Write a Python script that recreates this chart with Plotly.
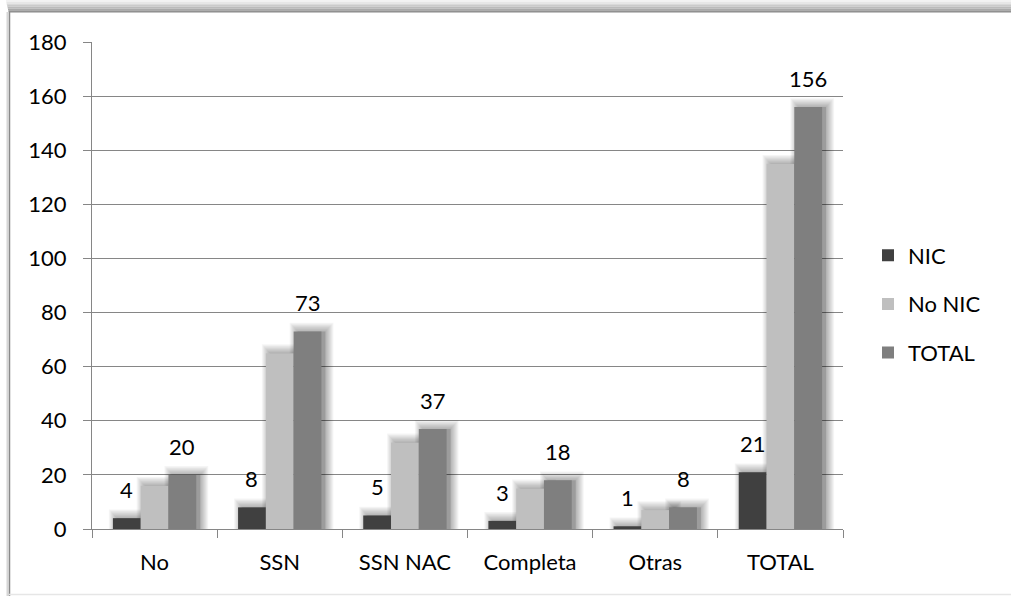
import plotly.graph_objects as go

# Chart data
categories = ["No", "SSN", "SSN NAC", "Completa", "Otras", "TOTAL"]
nic = [4, 8, 5, 3, 1, 21]
no_nic = [16, 65, 32, 15, 7, 135]
total = [20, 73, 37, 18, 8, 156]

series_names = ["NIC", "No NIC", "TOTAL"]
series_values = [nic, no_nic, total]
series_colors = ["#404040", "#bfbfbf", "#7f7f7f"]
labelled = [True, False, True]

# Figure geometry (pixels)
W, H = 1011, 596
L, R, T, B = 92, 843, 42, 529
PW, PH = R - L, B - T
Y_MAX = 180
CAT_PX = PW / len(categories)          # pixels per category
Y_PX = PH / Y_MAX                       # pixels per value unit

BAR_W = 0.222                           # bar width, category units
OFFSETS = [-0.333, -0.111, 0.111]       # left edge of each bar in its group

FONT = "Lato, 'Open Sans', sans-serif"
FS = 22
GRID = "#868686"

fig = go.Figure()

# Soft drop shadows behind the bars: an offset core plus growing translucent layers
SH_DX = 4
shadow_layers = [(0, 0.14)] + [(e, 0.04) for e in range(1, 9)]
for vals, off in zip(series_values, OFFSETS):
    for e, a in shadow_layers:
        fig.add_trace(go.Bar(
            x=categories,
            y=[v + 1.1 * e / Y_PX for v in vals],
            base=0,
            offset=off + (SH_DX - e) / CAT_PX,
            width=BAR_W + 2 * e / CAT_PX,
            marker=dict(color=f"rgba(0,0,0,{a})", line=dict(width=0)),
            showlegend=False,
            hoverinfo="skip",
        ))

# Main bars
for name, vals, col, off in zip(series_names, series_values, series_colors, OFFSETS):
    fig.add_trace(go.Bar(
        x=categories,
        y=vals,
        name=name,
        offset=off,
        width=BAR_W,
        marker=dict(color=col, line=dict(width=0)),
        legendgroup=name,
    ))

# Value labels above NIC and TOTAL bars
annotations = []
for vals, off, show in zip(series_values, OFFSETS, labelled):
    if not show:
        continue
    shift = (off + BAR_W / 2) * CAT_PX
    for c, v in zip(categories, vals):
        annotations.append(dict(
            x=c, y=v, xref="x", yref="y",
            text=str(v), showarrow=False,
            xanchor="center", yanchor="bottom",
            xshift=shift, yshift=13,
            font=dict(family=FONT, size=FS, color="#000000"),
        ))


def px_x(X):
    return (X - L) / PW


def px_y(Y):
    return (B - Y) / PH


# Outer frame: shaded top edge, left border, faint bottom edge
shapes = []
top_cols = ["#f2f2f2", "#e6e6e6", "#d9d9d9", "#cacaca", "#bababa", "#a9a9a9", "#989898"]
for k, c in enumerate(top_cols):
    shapes.append(dict(type="rect", xref="paper", yref="paper",
                       x0=px_x(6 + k * 0.4), x1=px_x(W + 5),
                       y0=px_y(1.7 * (k + 1)), y1=px_y(1.7 * k),
                       fillcolor=c, line=dict(width=0), layer="above"))
shapes.append(dict(type="line", xref="paper", yref="paper",
                   x0=px_x(9), x1=px_x(W + 5), y0=px_y(12), y1=px_y(12),
                   line=dict(color="#8a8a8a", width=1)))
shapes.append(dict(type="line", xref="paper", yref="paper",
                   x0=px_x(7.5), x1=px_x(7.5), y0=px_y(12), y1=px_y(H),
                   line=dict(color="#d6d6d6", width=2)))
shapes.append(dict(type="line", xref="paper", yref="paper",
                   x0=px_x(9.5), x1=px_x(9.5), y0=px_y(12), y1=px_y(H),
                   line=dict(color="#8a8a8a", width=1.5)))
shapes.append(dict(type="line", xref="paper", yref="paper",
                   x0=px_x(9), x1=px_x(W + 5), y0=px_y(594.5), y1=px_y(594.5),
                   line=dict(color="#e6e6e6", width=1.5)))

fig.update_layout(
    width=W, height=H,
    margin=dict(l=L, r=W - R, t=T, b=H - B, pad=0),
    barmode="overlay",
    paper_bgcolor="#ffffff",
    plot_bgcolor="#ffffff",
    font=dict(family=FONT, size=FS, color="#000000"),
    annotations=annotations,
    shapes=shapes,
    showlegend=True,
    legend=dict(
        x=px_x(868), y=px_y(304), xanchor="left", yanchor="middle",
        font=dict(family=FONT, size=FS, color="#000000"),
        tracegroupgap=17, bgcolor="rgba(0,0,0,0)",
        itemclick=False, itemdoubleclick=False,
    ),
    xaxis=dict(
        type="category", range=[-0.5, len(categories) - 0.5],
        showline=True, linecolor=GRID, linewidth=1,
        ticks="outside", tickson="boundaries", ticklen=8, tickcolor=GRID, tickwidth=1,
        ticklabelstandoff=14,
        showgrid=False, zeroline=False, fixedrange=True,
    ),
    yaxis=dict(
        range=[0, Y_MAX], dtick=20, tick0=0,
        showline=True, linecolor=GRID, linewidth=1,
        ticks="outside", ticklen=8, tickcolor=GRID, tickwidth=1,
        ticklabelstandoff=12,
        showgrid=True, gridcolor=GRID, gridwidth=1,
        zeroline=False, fixedrange=True,
    ),
)

fig.write_html("out.html", config={"displayModeBar": False})
